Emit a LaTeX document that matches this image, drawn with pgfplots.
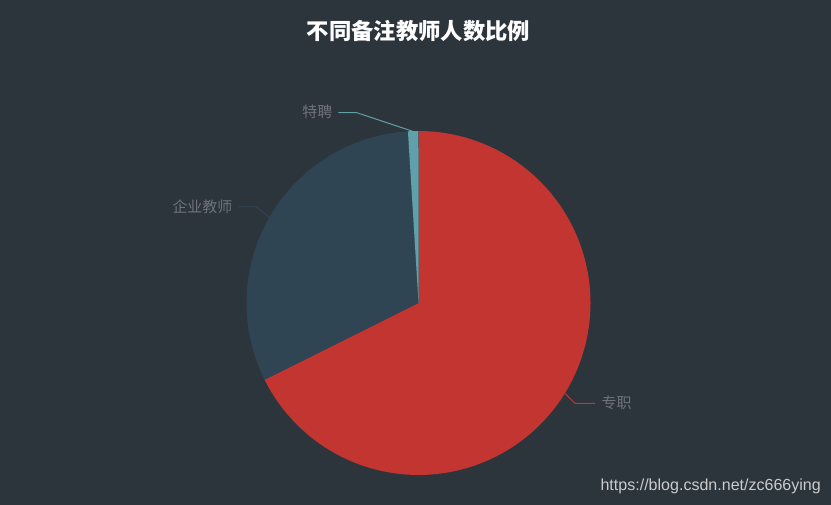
\documentclass[border=0pt]{standalone}
\usepackage{pgfplots}
\pgfplotsset{compat=1.18}
\usepackage{pgfplotstable}
\usepackage{fontspec}
\setmainfont{Liberation Sans}
\newfontfamily\cjk{Noto Sans CJK SC}

\definecolor{bg}{HTML}{2C343C}
\definecolor{c1}{HTML}{C23531}
\definecolor{c2}{HTML}{2F4554}
\definecolor{c3}{HTML}{61A0A8}
\definecolor{lbl}{HTML}{6E7479}

% 专职, 企业教师, 特聘
\pgfplotstableread{
value
69
32
1
}\piedata

\pgfplotstablegetelem{0}{value}\of\piedata \let\va\pgfplotsretval
\pgfplotstablegetelem{1}{value}\of\piedata \let\vb\pgfplotsretval
\pgfplotstablegetelem{2}{value}\of\piedata \let\vc\pgfplotsretval
\pgfmathsetmacro\total{\va+\vb+\vc}
% clockwise from 12 o'clock
\pgfmathsetmacro\angA{90-360*(\va/\total)}
\pgfmathsetmacro\angB{\angA-360*(\vb/\total)}
\pgfmathsetmacro\angC{\angB-360*(\vc/\total)}

\def\cx{418.5}
\def\cy{202}
\def\rr{172}

\begin{document}
\begin{tikzpicture}[x=1bp,y=1bp]
\fill[bg] (0,0) rectangle (831,505);
\begin{axis}[
  at={(0,0)}, anchor=south west,
  scale only axis, width=831bp, height=505bp,
  xmin=0, xmax=831, ymin=0, ymax=505,
  hide axis, clip=false,
]
\addplot[fill=c1, draw=none, domain=\angA:90, samples=120]
  ({\cx+\rr*cos(x)}, {\cy+\rr*sin(x)}) -- (axis cs:\cx,\cy) -- cycle;
\addplot[fill=c2, draw=none, domain=\angB:\angA, samples=60]
  ({\cx+\rr*cos(x)}, {\cy+\rr*sin(x)}) -- (axis cs:\cx,\cy) -- cycle;
\addplot[fill=c3, draw=none, domain=\angC:\angB, samples=5]
  ({\cx+\rr*cos(x)}, {\cy+\rr*sin(x)}) -- (axis cs:\cx,\cy) -- cycle;

% label lines
\draw[c3, line width=1pt] (axis cs:413.3,373.5) -- (axis cs:356.7,392.3) -- (axis cs:338.3,392.3);
\draw[c2, line width=1pt] (axis cs:269.4,287.7) -- (axis cs:256.7,298) -- (axis cs:238.3,298);
\draw[c1, line width=1pt] (axis cs:564.8,111.7) -- (axis cs:575,101.7) -- (axis cs:595,101.7);

\node[anchor=east, inner sep=0, text=lbl, font=\cjk\fontsize{15}{15}\selectfont] at (axis cs:332.5,393.5) {特聘};
\node[anchor=east, inner sep=0, text=lbl, font=\cjk\fontsize{15}{15}\selectfont] at (axis cs:232.5,298) {企业教师};
\node[anchor=west, inner sep=0, text=lbl, font=\cjk\fontsize{15}{15}\selectfont] at (axis cs:601.5,102) {专职};

\node[inner sep=0, text=white, font=\cjk\bfseries\fontsize{22.4}{22.4}\selectfont] at (axis cs:418.5,474) {不同备注教师人数比例};

\node[anchor=east, inner sep=0, text=white!75!bg, font=\fontsize{16.1}{16.1}\selectfont] at (axis cs:821,19) {https://blog.csdn.net/zc666ying};
\end{axis}
\end{tikzpicture}
\end{document}
